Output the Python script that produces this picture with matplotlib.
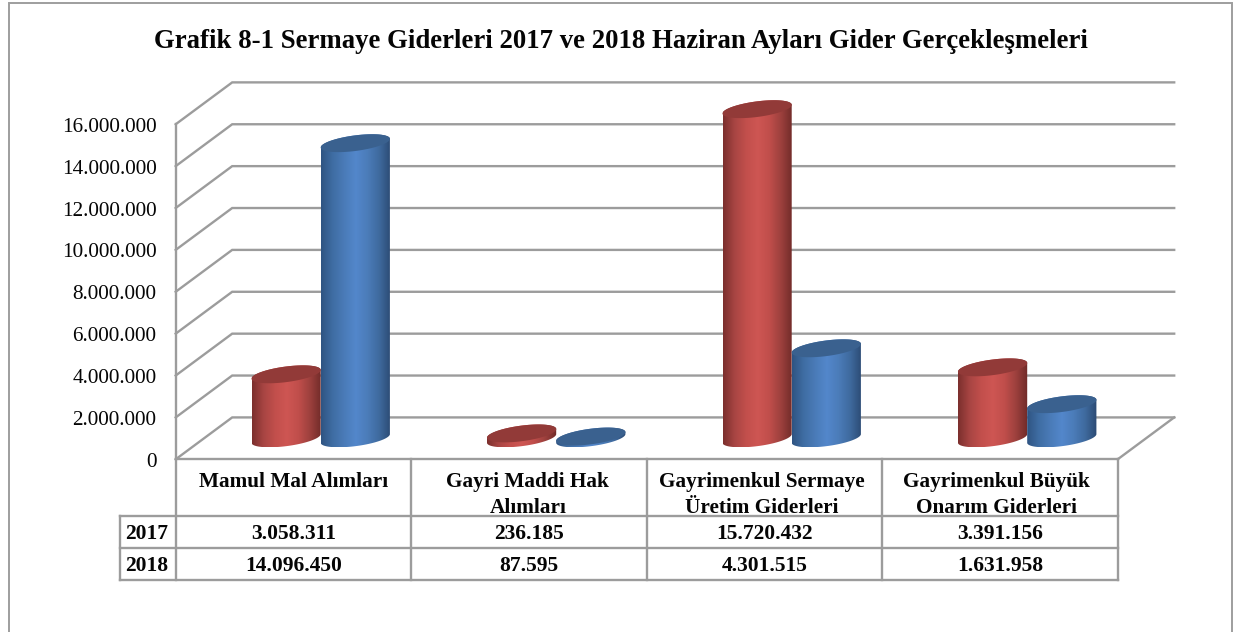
# -*- coding: utf-8 -*-
import numpy as np
import matplotlib
matplotlib.use('Agg')
import matplotlib.pyplot as plt
from matplotlib.colors import LinearSegmentedColormap
from matplotlib.patches import Polygon

#%%
categories = ['Mamul Mal Alımları', 'Gayri Maddi Hak\nAlımları',
              'Gayrimenkul Sermaye\nÜretim Giderleri', 'Gayrimenkul Büyük\nOnarım Giderleri']
years = ['2017', '2018']
values_2017 = [3058311, 236185, 15720432, 3391156]
values_2018 = [14096450, 87595, 4301515, 1631958]
labels_2017 = ['3.058.311', '236.185', '15.720.432', '3.391.156']
labels_2018 = ['14.096.450', '87.595', '4.301.515', '1.631.958']
y_ticks = [0, 2000000, 4000000, 6000000, 8000000, 10000000, 12000000, 14000000, 16000000]
y_ticklabels = ['0', '2.000.000', '4.000.000', '6.000.000', '8.000.000', '10.000.000',
                '12.000.000', '14.000.000', '16.000.000']
title = 'Grafik 8-1 Sermaye Giderleri 2017 ve 2018 Haziran Ayları Gider Gerçekleşmeleri'

#%%
W, H = 1235, 632
x0_px, y0_px = 175.7, 459.3     # where the front corner of the floor sits
cat_px = 235.5                  # width of one category
unit_px = 20.94e-6              # pixels for one unit of value
depth_x = 56.5 / cat_px
depth_y = 2000000
half_w = 34.6 / cat_px

fig = plt.figure(figsize=(W / 100, H / 100), dpi=100)
ax = fig.add_axes([0, 0, 1, 1])
ax.set_xlim(-x0_px / cat_px, (W - x0_px) / cat_px)
ax.set_ylim((y0_px - H) / unit_px, y0_px / unit_px)
ax.axis('off')

def px(x):
    return (x - x0_px) / cat_px

def py(y):
    return (y0_px - y) / unit_px

grid = '#9c9c9c'
n = len(categories)
serif = 'Liberation Serif'

#%% outer frame
ax.plot([px(9), px(9), px(1232), px(1232)], [py(H), py(3), py(3), py(H)], color='#9e9e9e', lw=1.4,
        solid_joinstyle='miter')

#%% walls
for v in y_ticks:
    ax.plot([0, depth_x, n + depth_x], [v, v + depth_y, v + depth_y], color=grid, lw=1.7,
            solid_joinstyle='miter')
ax.plot([0, 0], [0, y_ticks[-1]], color=grid, lw=1.7)
ax.plot([n, n + depth_x], [0, depth_y], color=grid, lw=1.7)

for v, lab in zip(y_ticks, y_ticklabels):
    ax.text(px(156.5), v - 3 / unit_px, lab, ha='right', va='center', family=serif, fontsize=15.3,
            color='#050505')

#%% cylinders
red_cm = LinearSegmentedColormap.from_list('r', ['#7b2f2d', '#a84543', '#c24f4c', '#ce5653', '#c04e4b', '#9c403d', '#6f2a28'])
blue_cm = LinearSegmentedColormap.from_list('b', ['#2f5482', '#3f6da3', '#4a7bb8', '#5387cb', '#4b7cb9', '#3f6a9e', '#2b4a73'])
grad = np.linspace(0, 1, 256).reshape(1, -1)
t = np.linspace(0, 2 * np.pi, 121)

def ellipse(cx, cy):
    xs = cx + half_w * np.cos(t) + 1.5 / cat_px * np.sin(t)
    ys = cy + (8 * np.sin(t) + 4 * np.cos(t)) / unit_px
    return np.column_stack([xs, ys])

def cylinder(cx, value, cmap, top_color, z):
    base = depth_y / 2
    top = base + value
    e_base = ellipse(cx, base)
    e_top = ellipse(cx, top)
    lower = e_base[(t >= np.pi)]
    upper = e_top[(t <= np.pi)]
    outline = np.vstack([upper, lower])
    poly = Polygon(outline, closed=True, fc='none', ec='none', zorder=z)
    ax.add_patch(poly)
    low = e_base[:, 1].min()
    high = e_top[:, 1].max()
    im = ax.imshow(grad, cmap=cmap, extent=[cx - half_w, cx + half_w, low, high], aspect='auto', zorder=z)
    im.set_clip_path(poly)
    ax.add_patch(Polygon(e_top, closed=True, fc=top_color, ec='none', zorder=z + 0.1))

for i in range(n):
    cx = i + 0.5 + depth_x / 2 - 1 / cat_px
    cylinder(cx - half_w, values_2017[i], red_cm, '#923a38', 3 + i)
    cylinder(cx + half_w, values_2018[i], blue_cm, '#3a618f', 3.5 + i)

ax.set_xlim(-x0_px / cat_px, (W - x0_px) / cat_px)
ax.set_ylim((y0_px - H) / unit_px, y0_px / unit_px)

#%% data table under the chart
row_tops = [459.3, 516, 548, 580]
table_left = px(120)
for k, r in enumerate(row_tops):
    ax.plot([table_left if k > 0 else 0, n], [py(r), py(r)], color=grid, lw=1.7, zorder=8)
for i in range(n + 1):
    ax.plot([i, i], [py(row_tops[0]), py(row_tops[-1])], color=grid, lw=1.7, zorder=8)
ax.plot([table_left, table_left], [py(row_tops[1]), py(row_tops[-1])], color=grid, lw=1.7, zorder=8)

for i, c in enumerate(categories):
    # the header labels in the original drift a little left of their cells
    ax.text(i + 0.5 - 1.2 * i / cat_px, py(472), c, ha='center', va='top', family=serif, weight='bold',
            fontsize=15.3, color='#050505', linespacing=1.4)
    ax.text(i + 0.5, py(534), labels_2017[i], ha='center', va='center', family=serif, weight='bold',
            fontsize=15.5, color='#050505')
    ax.text(i + 0.5, py(566), labels_2018[i], ha='center', va='center', family=serif, weight='bold',
            fontsize=15.5, color='#050505')
for yr, r in zip(years, [534, 566]):
    ax.text(px(146.5), py(r), yr, ha='center', va='center', family=serif, weight='bold', fontsize=15.5,
            color='#050505')

ax.text(px(621), py(41), title, ha='center', va='center', family=serif, weight='bold', fontsize=19.3,
        color='#050505')

fig.savefig('out.png', dpi=100)
